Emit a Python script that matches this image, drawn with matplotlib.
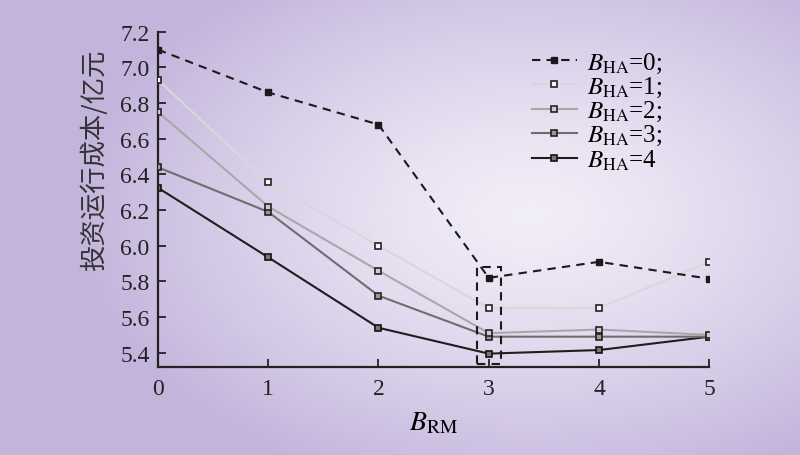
import numpy as np
import matplotlib.pyplot as plt
from matplotlib.patches import Rectangle

plt.rcParams['font.family'] = ['Liberation Serif', 'Noto Sans CJK SC']
plt.rcParams['mathtext.fontset'] = 'stix'

b_rm = [0, 1, 2, 3, 4, 5]
cost_ha0 = [7.10, 6.86, 6.68, 5.82, 5.91, 5.815]
cost_ha1 = [6.93, 6.355, 6.00, 5.65, 5.65, 5.91]
cost_ha2 = [6.75, 6.22, 5.86, 5.51, 5.53, 5.50]
cost_ha3 = [6.44, 6.19, 5.72, 5.49, 5.49, 5.49]
cost_ha4 = [6.325, 5.935, 5.54, 5.395, 5.415, 5.49]
labels = ['$B_{\\mathrm{HA}}$=0;', '$B_{\\mathrm{HA}}$=1;', '$B_{\\mathrm{HA}}$=2;',
          '$B_{\\mathrm{HA}}$=3;', '$B_{\\mathrm{HA}}$=4']
yticks = [5.4, 5.6, 5.8, 6.0, 6.2, 6.4, 6.6, 6.8, 7.0, 7.2]

fig = plt.figure(figsize=(8, 4.56), dpi=100)

# background: soft radial gradient, light centre, lilac edges
bg = fig.add_axes([0, 0, 1, 1], zorder=-10)
xx, yy = np.meshgrid(np.linspace(0, 800, 400), np.linspace(0, 456, 228))
r = np.sqrt(((xx - 530) / 460) ** 2 + ((yy - 215) / 290) ** 2)
t = np.clip(r, 0, 1) ** 1.3
edge = np.array([195, 180, 220]) / 255
centre = np.array([242, 238, 248]) / 255
img = centre[None, None, :] * (1 - t[..., None]) + edge[None, None, :] * t[..., None]
bg.imshow(img, extent=[0, 800, 456, 0], aspect='auto')
bg.axis('off')

ax = fig.add_axes([0.1975, 0.193, 0.689, 0.735])
ax.patch.set_alpha(0)

ax.plot(b_rm, cost_ha0, color='#1a1a1a', ls=(0, (4, 3)), lw=1.5, marker='s', ms=5,
        mfc='#1a1a1a', mec='#1a1a1a', label=labels[0], zorder=6)
ax.plot(b_rm, cost_ha1, color='#d8d8d8', lw=1.5, marker='s', ms=5,
        mfc='#f4f4f4', mec='#222222', mew=1.2, label=labels[1], zorder=5)
ax.plot(b_rm, cost_ha2, color='#a8a8a8', lw=1.5, marker='s', ms=5,
        mfc='#cccccc', mec='#222222', mew=1.2, label=labels[2], zorder=4)
ax.plot(b_rm, cost_ha3, color='#6e6e6e', lw=1.5, marker='s', ms=5,
        mfc='#999999', mec='#222222', mew=1.2, label=labels[3], zorder=3)
ax.plot(b_rm, cost_ha4, color='#1e1e1e', lw=1.5, marker='s', ms=5,
        mfc='#777777', mec='#111111', mew=1.2, label=labels[4], zorder=2)

# dashed box around B_RM = 3
ax.add_patch(Rectangle((2.89, 5.335), 0.22, 0.545, fill=False, ls=(0, (4, 3)),
                       lw=1.5, ec='#1a1a1a', zorder=7, clip_on=False))

ax.set_xlim(0, 5)
ax.set_ylim(5.32, 7.2)
ax.set_xticks(b_rm)
ax.set_yticks(yticks)
ax.set_yticklabels(['%.1f' % v for v in yticks])
ax.tick_params(direction='in', length=6, width=1.3, labelsize=17, colors='#222222')
ax.tick_params(axis='x', pad=8)
ax.tick_params(axis='y', pad=6)
for s in ['top', 'right']:
    ax.spines[s].set_visible(False)
for s in ['left', 'bottom']:
    ax.spines[s].set_linewidth(1.6)
    ax.spines[s].set_color('#222222')

ax.set_xlabel('$B_{\\mathrm{RM}}$', fontsize=20, labelpad=8)
ax.set_ylabel('投资运行成本/亿元', fontsize=19, family=['Noto Sans CJK SC'], labelpad=6,
              color='#333333', fontweight='light')
ax.yaxis.set_label_coords(-0.09, 0.62)

ax.legend(loc='upper left', bbox_to_anchor=(0.655, 0.98), frameon=False, fontsize=18,
          handlelength=1.8, handletextpad=0.4, labelspacing=0.0, borderpad=0)

fig.savefig('out.png', dpi=100)
